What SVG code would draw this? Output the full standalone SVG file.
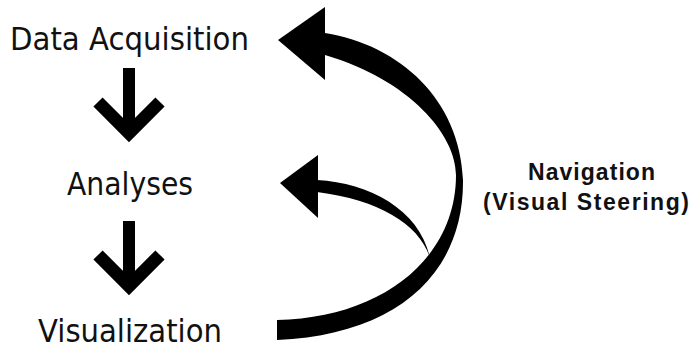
<svg xmlns="http://www.w3.org/2000/svg" width="692" height="349" viewBox="0 0 692 349">
<style>
.lbl{font-family:"DejaVu Sans","Verdana",sans-serif;font-size:32px;fill:#111}
.nav{font-family:"Liberation Sans",Arial,sans-serif;font-size:23px;font-weight:bold;fill:#111}
.stem{stroke:#000;stroke-width:12;fill:none}
.chev{stroke:#000;stroke-width:13;fill:none;stroke-linejoin:miter;stroke-miterlimit:4}
.band{fill:#000}
</style>
<rect width="692" height="349" fill="#fff"/>
<g id="node-data-acquisition">
<text class="lbl" x="10" y="50" textLength="239" lengthAdjust="spacingAndGlyphs">Data Acquisition</text>
</g>
<g id="node-analyses">
<text class="lbl" x="67" y="195" textLength="126" lengthAdjust="spacingAndGlyphs">Analyses</text>
</g>
<g id="node-visualization">
<text class="lbl" x="38" y="342" textLength="184" lengthAdjust="spacingAndGlyphs">Visualization</text>
</g>
<g id="node-navigation">
<text class="nav" x="528" y="180" textLength="127">Navigation</text>
<text class="nav" x="483" y="210" textLength="206">(Visual Steering)</text>
</g>
<g id="connectors">
<g id="arrow-acq-ana">
<line class="stem" x1="129" y1="68" x2="129" y2="134"/>
<polyline class="chev" points="98,102 129,133 160,102"/>
</g>
<g id="arrow-ana-vis">
<line class="stem" x1="129" y1="221" x2="129" y2="287"/>
<polyline class="chev" points="98,255 129,286 160,255"/>
</g>
<g id="arrow-vis-acq">
<path class="band" d="M325,33 C400,45 460,100 463,180 C464,275 395,335 277,340 L277,320 C380,318 456,260 456,175 C456,135 410,80 325,55 Z"/>
<polygon class="band" points="278,40 325,7 325,80"/>
</g>
<g id="arrow-vis-ana">
<path class="band" d="M317,180 C370,183 420,210 430,258 C420,225 380,200 317,192 Z"/>
<polygon class="band" points="280,183 318,155 318,218"/>
</g>
</g>
</svg>
